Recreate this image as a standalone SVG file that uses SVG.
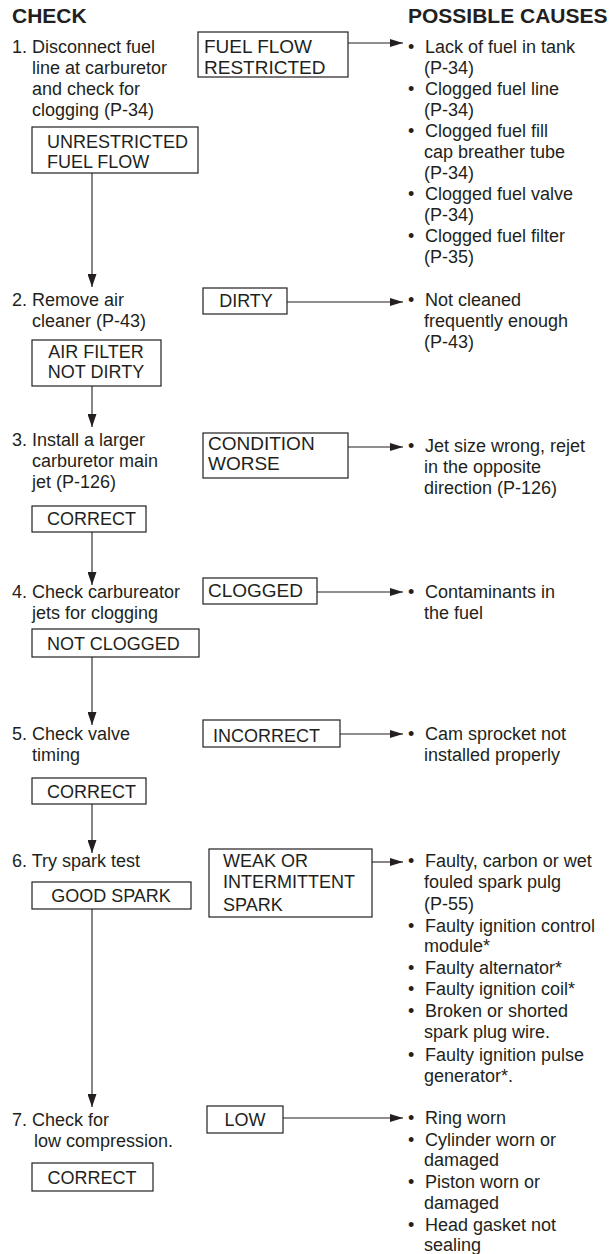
<svg xmlns="http://www.w3.org/2000/svg" width="609" height="1254" viewBox="0 0 609 1254">
<style>
text{font-family:"Liberation Sans",Arial,sans-serif;font-size:18px;fill:#231f20}
.h{font-weight:bold;font-size:21px}
.c{text-anchor:middle}
.b{font-size:19px}
rect{fill:#fff;stroke:#231f20;stroke-width:1.2}
.ln{stroke:#231f20;stroke-width:1.1;fill:none}
</style>
<defs>
<marker id="ah" viewBox="0 0 13 8" refX="13" refY="4" markerWidth="13" markerHeight="8" markerUnits="userSpaceOnUse" orient="auto">
<path d="M0,0 L13,4 L0,8 z" fill="#231f20"/>
</marker>
<marker id="av" viewBox="0 0 13 9" refX="13" refY="4.5" markerWidth="13" markerHeight="9" markerUnits="userSpaceOnUse" orient="auto">
<path d="M0,0 L13,4.5 L0,9 z" fill="#231f20"/>
</marker>
</defs>
<rect x="0" y="0" width="609" height="1254" style="stroke:none;fill:#fff"/>
<g id="headers">
<text class="h" x="12" y="23">CHECK</text>
<text class="h" x="408" y="23">POSSIBLE CAUSES</text>
</g>
<g id="connectors">
<line class="ln" x1="92" y1="173" x2="92" y2="287" marker-end="url(#av)"/>
<line class="ln" x1="92" y1="386" x2="92" y2="427" marker-end="url(#av)"/>
<line class="ln" x1="92" y1="532" x2="92" y2="585" marker-end="url(#av)"/>
<line class="ln" x1="92" y1="657" x2="92" y2="725" marker-end="url(#av)"/>
<line class="ln" x1="92" y1="804" x2="92" y2="853" marker-end="url(#av)"/>
<line class="ln" x1="92" y1="909" x2="92" y2="1107" marker-end="url(#av)"/>
<line class="ln" x1="348" y1="43" x2="403" y2="43" marker-end="url(#ah)"/>
<line class="ln" x1="287" y1="302" x2="403" y2="302" marker-end="url(#ah)"/>
<line class="ln" x1="348" y1="447" x2="403" y2="447" marker-end="url(#ah)"/>
<line class="ln" x1="317" y1="592" x2="403" y2="592" marker-end="url(#ah)"/>
<line class="ln" x1="340" y1="734" x2="403" y2="734" marker-end="url(#ah)"/>
<line class="ln" x1="372" y1="862" x2="403" y2="862" marker-end="url(#ah)"/>
<line class="ln" x1="283" y1="1118" x2="403" y2="1118" marker-end="url(#ah)"/>
</g>
<g id="step1">
<text x="12" y="53">1. Disconnect fuel</text>
<text x="32" y="74">line at carburetor</text>
<text x="32" y="95">and check for</text>
<text x="32" y="116">clogging (P-34)</text>
</g>
<g id="unrestricted">
<rect x="32" y="127" width="166" height="46"/>
<text x="47" y="148">UNRESTRICTED</text>
<text x="47" y="168">FUEL FLOW</text>
</g>
<g id="fuel-restricted">
<rect x="198" y="32" width="150" height="45"/>
<text class="b" x="204" y="53">FUEL FLOW</text>
<text class="b" x="204" y="74">RESTRICTED</text>
</g>
<g id="causes1">
<text x="408" y="53">•</text><text x="425" y="53">Lack of fuel in tank</text>
<text x="424" y="74">(P-34)</text>
<text x="408" y="95">•</text><text x="425" y="95">Clogged fuel line</text>
<text x="424" y="116">(P-34)</text>
<text x="408" y="137">•</text><text x="425" y="137">Clogged fuel fill</text>
<text x="424" y="158">cap breather tube</text>
<text x="424" y="179">(P-34)</text>
<text x="408" y="200">•</text><text x="425" y="200">Clogged fuel valve</text>
<text x="424" y="221">(P-34)</text>
<text x="408" y="242">•</text><text x="425" y="242">Clogged fuel filter</text>
<text x="424" y="263">(P-35)</text>
</g>
<g id="step2">
<text x="12" y="306">2. Remove air</text>
<text x="32" y="327">cleaner (P-43)</text>
</g>
<g id="air-not-dirty">
<rect x="32" y="340" width="129" height="46"/>
<text class="c" x="96" y="358">AIR FILTER</text>
<text class="c" x="96" y="378">NOT DIRTY</text>
</g>
<g id="dirty">
<rect x="203" y="288" width="84" height="26"/>
<text class="c" x="246" y="307">DIRTY</text>
</g>
<g id="causes2">
<text x="408" y="306">•</text><text x="425" y="306">Not cleaned</text>
<text x="424" y="327">frequently enough</text>
<text x="424" y="348">(P-43)</text>
</g>
<g id="step3">
<text x="12" y="446">3. Install a larger</text>
<text x="32" y="467">carburetor main</text>
<text x="32" y="488">jet (P-126)</text>
</g>
<g id="correct3">
<rect x="32" y="506" width="114" height="26"/>
<text x="47" y="525">CORRECT</text>
</g>
<g id="condition-worse">
<rect x="203" y="433" width="145" height="45"/>
<text class="b" x="208" y="450">CONDITION</text>
<text class="b" x="208" y="470">WORSE</text>
</g>
<g id="causes3">
<text x="408" y="452">•</text><text x="425" y="452">Jet size wrong, rejet</text>
<text x="424" y="473">in the opposite</text>
<text x="424" y="494">direction (P-126)</text>
</g>
<g id="step4">
<text x="12" y="598">4. Check carbureator</text>
<text x="32" y="619">jets for clogging</text>
</g>
<g id="not-clogged">
<rect x="32" y="629" width="167" height="28"/>
<text x="47" y="650">NOT CLOGGED</text>
</g>
<g id="clogged">
<rect x="203" y="578" width="114" height="26"/>
<text class="b" x="208" y="597">CLOGGED</text>
</g>
<g id="causes4">
<text x="408" y="598">•</text><text x="425" y="598">Contaminants in</text>
<text x="424" y="619">the fuel</text>
</g>
<g id="step5">
<text x="12" y="740">5. Check valve</text>
<text x="32" y="761">timing</text>
</g>
<g id="correct5">
<rect x="32" y="778" width="114" height="26"/>
<text x="47" y="798">CORRECT</text>
</g>
<g id="incorrect">
<rect x="203" y="720" width="137" height="27"/>
<text x="213" y="742">INCORRECT</text>
</g>
<g id="causes5">
<text x="408" y="740">•</text><text x="425" y="740">Cam sprocket not</text>
<text x="424" y="761">installed properly</text>
</g>
<g id="step6">
<text x="12" y="867">6. Try spark test</text>
</g>
<g id="good-spark">
<rect x="32" y="882" width="159" height="27"/>
<text class="c" x="111" y="902">GOOD SPARK</text>
</g>
<g id="weak-spark">
<rect x="209" y="849" width="163" height="68"/>
<text x="223" y="867">WEAK OR</text>
<text x="223" y="888">INTERMITTENT</text>
<text x="223" y="911">SPARK</text>
</g>
<g id="causes6">
<text x="408" y="867">•</text><text x="425" y="867">Faulty, carbon or wet</text>
<text x="424" y="888">fouled spark pulg</text>
<text x="424" y="910">(P-55)</text>
<text x="408" y="932">•</text><text x="425" y="932">Faulty ignition control</text>
<text x="424" y="952">module*</text>
<text x="408" y="974">•</text><text x="425" y="974">Faulty alternator*</text>
<text x="408" y="995">•</text><text x="425" y="995">Faulty ignition coil*</text>
<text x="408" y="1017">•</text><text x="425" y="1017">Broken or shorted</text>
<text x="424" y="1038">spark plug wire.</text>
<text x="408" y="1061">•</text><text x="425" y="1061">Faulty ignition pulse</text>
<text x="424" y="1082">generator*.</text>
</g>
<g id="step7">
<text x="12" y="1126">7. Check for</text>
<text x="34" y="1147">low compression.</text>
</g>
<g id="correct7">
<rect x="32" y="1163" width="121" height="28"/>
<text class="c" x="92" y="1184">CORRECT</text>
</g>
<g id="low">
<rect x="207" y="1106" width="76" height="27"/>
<text class="c" x="245" y="1126">LOW</text>
</g>
<g id="causes7">
<text x="408" y="1124">•</text><text x="425" y="1124">Ring worn</text>
<text x="408" y="1146">•</text><text x="425" y="1146">Cylinder worn or</text>
<text x="424" y="1166">damaged</text>
<text x="408" y="1188">•</text><text x="425" y="1188">Piston worn or</text>
<text x="424" y="1209">damaged</text>
<text x="408" y="1231">•</text><text x="425" y="1231">Head gasket not</text>
<text x="424" y="1251">sealing</text>
</g>
</svg>
